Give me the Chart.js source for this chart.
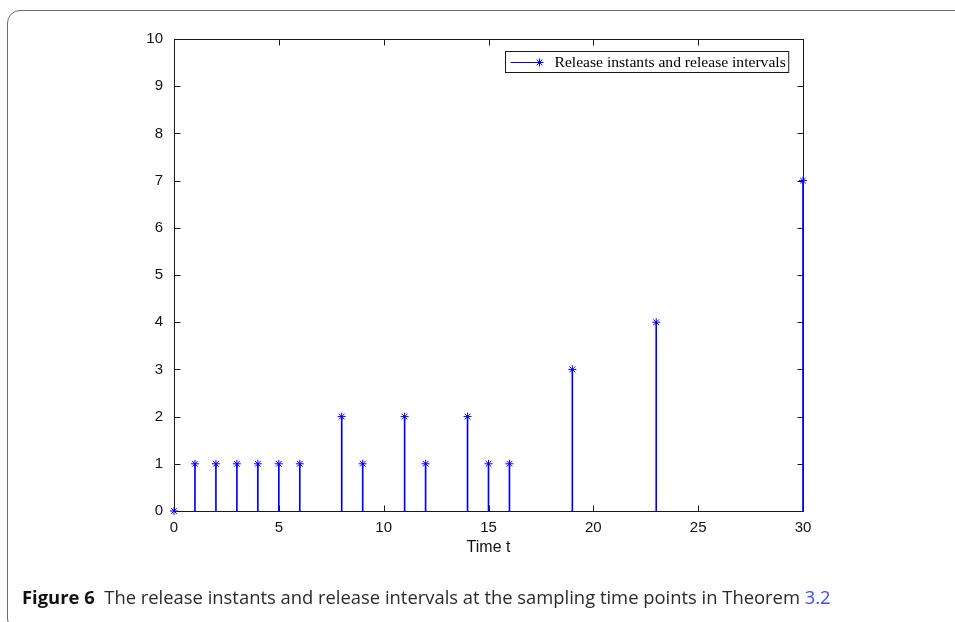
<!DOCTYPE html>
<html>
<head>
<meta charset="utf-8">
<script src="https://cdn.jsdelivr.net/npm/chart.js@4.4.1/dist/chart.umd.min.js"></script>
<style>
  html, body { margin: 0; padding: 0; background: #fff; }
  body { width: 955px; height: 622px; position: relative; overflow: hidden; }
  .frame { position: absolute; left: 7px; top: 10px; width: 1000px; height: 620px;
           border: 1px solid #6b6b6b; border-radius: 13px; }
  #c { position: absolute; left: 0; top: 0; }
  .caption { position: absolute; left: 22px; top: 584px; font-family: "Open Sans", "Noto Sans", sans-serif;
             font-size: 18.4px; color: #2a2a2a; white-space: nowrap; }
  .caption b { color: #111; font-weight: 700; }
  .caption .ref { color: #3a4cff; }
</style>
</head>
<body>
<div class="frame"></div>
<canvas id="c" width="955" height="622"></canvas>
<div class="caption"><b>Figure 6</b>&nbsp; The release instants and release intervals at the sampling time points in Theorem <span class="ref">3.2</span></div>
<script>
// release instants (time) and release intervals (height)
const instants = [0, 1, 2, 3, 4, 5, 6, 8, 9, 11, 12, 14, 15, 16, 19, 23, 30];
const intervals = [0, 1, 1, 1, 1, 1, 1, 2, 1, 2, 1, 2, 1, 1, 3, 4, 7];
const xTicks = [0, 5, 10, 15, 20, 25, 30];
const yTicks = [0, 1, 2, 3, 4, 5, 6, 7, 8, 9, 10];
const seriesLabel = "Release instants and release intervals";
const xLabel = "Time t";

const points = instants.map((t, i) => ({ x: t, y: intervals[i] }));
const BLUE = "#0000ff";

// matlab style box with inward ticks
const boxPlugin = {
    id: "box",
    beforeDatasetsDraw(chart) {
        const ctx = chart.ctx, a = chart.chartArea;
        const xs = chart.scales.x, ys = chart.scales.y;
        const L = Math.round(a.left) + 0.5, R = Math.round(a.right) + 0.5;
        const T = Math.round(a.top) + 0.5, B = Math.round(a.bottom) + 0.5;
        ctx.save();
        ctx.strokeStyle = "#1a1a1a";
        ctx.lineWidth = 1;
        ctx.strokeRect(L, T, R - L, B - T);
        ctx.beginPath();
        yTicks.forEach(v => {
            const y = Math.round(ys.getPixelForValue(v)) + 0.5;
            ctx.moveTo(L, y); ctx.lineTo(L + 6, y);
            ctx.moveTo(R, y); ctx.lineTo(R - 6, y);
        });
        xTicks.forEach(v => {
            const x = Math.round(xs.getPixelForValue(v)) + 0.5;
            ctx.moveTo(x, B); ctx.lineTo(x, B - 6);
            ctx.moveTo(x, T); ctx.lineTo(x, T + 6);
        });
        ctx.stroke();
        ctx.restore();
    },
    afterDraw(chart) {
        const ctx = chart.ctx, a = chart.chartArea;
        ctx.save();
        ctx.font = "15.6px 'Liberation Serif', serif";
        const tw = ctx.measureText(seriesLabel).width;
        const w = tw + 52, h = 21;
        const x0 = Math.round(a.right - 15 - w) + 0.5, y0 = Math.round(a.top + 12) + 0.5;
        ctx.fillStyle = "#fff";
        ctx.fillRect(x0, y0, w, h);
        ctx.strokeStyle = "#1a1a1a";
        ctx.lineWidth = 1;
        ctx.strokeRect(x0, y0, w, h);
        const cy = Math.round(y0 + h / 2) + 0.5;
        ctx.strokeStyle = BLUE;
        ctx.beginPath();
        ctx.moveTo(x0 + 5, cy); ctx.lineTo(x0 + 34, cy);
        ctx.stroke();
        Chart.helpers.drawPoint(ctx, { pointStyle: "star", radius: 4, borderWidth: 1 }, x0 + 34, cy);
        ctx.fillStyle = "#000";
        ctx.textBaseline = "middle";
        ctx.fillText(seriesLabel, x0 + 49, cy + 0.5);
        ctx.restore();
    }
};

new Chart(document.getElementById("c"), {
    type: "bar",
    data: {
        datasets: [{
            type: "bar",
            label: seriesLabel,
            data: points,
            backgroundColor: BLUE,
            borderWidth: 0,
            barThickness: 1,
            clip: false
        }, {
            type: "scatter",
            label: seriesLabel,
            data: points,
            pointStyle: "star",
            pointRadius: 4,
            borderColor: BLUE,
            backgroundColor: BLUE,
            pointBorderWidth: 1,
            showLine: false,
            clip: false
        }]
    },
    options: {
        responsive: false,
        animation: false,
        events: [],
        layout: { padding: { left: 124, top: 39, right: 152, bottom: 61 } },
        plugins: { legend: { display: false }, tooltip: { enabled: false } },
        scales: {
            x: {
                type: "linear",
                min: 0, max: 30,
                offset: false,
                afterBuildTicks: s => { s.ticks = xTicks.map(v => ({ value: v })); },
                afterFit: s => { s.height = 50; },
                grid: { display: false, drawTicks: false },
                border: { display: false },
                ticks: { padding: 8, color: "#111", font: { family: "'Liberation Sans', Arial, sans-serif", size: 15 } },
                title: { display: true, text: xLabel, color: "#111", padding: { top: 2, bottom: 4 },
                         font: { family: "'Liberation Sans', Arial, sans-serif", size: 16 } }
            },
            y: {
                min: 0, max: 10,
                afterBuildTicks: s => { s.ticks = yTicks.map(v => ({ value: v })); },
                afterFit: s => { s.width = 50; },
                grid: { display: false, drawTicks: false },
                border: { display: false },
                ticks: { padding: 11, color: "#111", font: { family: "'Liberation Sans', Arial, sans-serif", size: 15 } }
            }
        }
    },
    plugins: [boxPlugin]
});
</script>
</body>
</html>
